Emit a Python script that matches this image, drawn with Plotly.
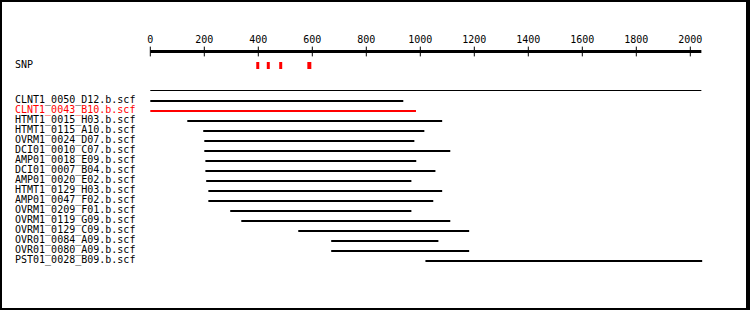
import plotly.graph_objects as go

# ---- data ----
read_names = [
    "CLNT1_0050_D12.b.scf", "CLNT1_0043_B10.b.scf", "HTMT1_0015_H03.b.scf",
    "HTMT1_0115_A10.b.scf", "OVRM1_0024_D07.b.scf", "DCI01_0010_C07.b.scf",
    "AMP01_0018_E09.b.scf", "DCI01_0007_B04.b.scf", "AMP01_0020_E02.b.scf",
    "HTMT1_0129_H03.b.scf", "AMP01_0047_F02.b.scf", "OVRM1_0209_F01.b.scf",
    "OVRM1_0119_G09.b.scf", "OVRM1_0129_C09.b.scf", "OVR01_0084_A09.b.scf",
    "OVR01_0080_A09.b.scf", "PST01_0028_B09.b.scf",
]
read_start = [0, 0, 137, 196, 200, 200, 204, 204, 207, 215, 215, 296, 337, 548, 670, 670, 1019]
read_end = [937, 984, 1081, 1015, 978, 1111, 985, 1056, 967, 1081, 1048, 967, 1111, 1181, 1067, 1181, 2044]
highlight = "CLNT1_0043_B10.b.scf"
snp_pos = [398, 437, 483, 589]
snp_width_px = [3, 3, 3, 4]
consensus = [0, 2041]
tick_vals = [0, 200, 400, 600, 800, 1000, 1200, 1400, 1600, 1800, 2000]
tick_labels = [str(v) for v in tick_vals]

# ---- layout constants (row units: pixel = 101 + 10*row) ----
W, H = 750, 310
PX0, PXS = 150.3, 0.27          # pixel of 0, pixels per unit
ROW0, ROWH = 101.0, 10.0
def prow(p):
    return (p - ROW0) / ROWH
def xval(px):
    return (px - PX0) / PXS
AXIS_Y = prow(51.5)
TICKLAB_Y = prow(40)
SNP_Y = prow(65.5)
CONS_Y = prow(90.5)
LABEL_X = xval(15)
FONT = dict(family="DejaVu Sans Mono", size=10, color="black")

fig = go.Figure()

# ruler line
fig.add_trace(go.Scatter(x=[0, consensus[1]], y=[AXIS_Y, AXIS_Y], mode="lines",
                         line=dict(color="black", width=3), hoverinfo="skip"))
# tick marks
fig.add_trace(go.Scatter(x=tick_vals, y=[AXIS_Y] * len(tick_vals), mode="markers",
                         marker=dict(symbol="line-ns", size=7, line=dict(color="black", width=1)),
                         hoverinfo="skip"))
# tick labels
fig.add_trace(go.Scatter(x=tick_vals, y=[TICKLAB_Y] * len(tick_vals), mode="text",
                         text=tick_labels, textposition="middle center",
                         textfont=FONT, hoverinfo="skip"))
# SNPs
for s, wpx in zip(snp_pos, snp_width_px):
    fig.add_shape(type="rect", xref="x", yref="y",
                  x0=s - wpx / 2 / PXS, x1=s + wpx / 2 / PXS,
                  y0=SNP_Y - 0.35, y1=SNP_Y + 0.35,
                  fillcolor="red", line=dict(width=0))
# consensus line
fig.add_trace(go.Scatter(x=consensus, y=[CONS_Y, CONS_Y], mode="lines",
                         line=dict(color="black", width=1), hoverinfo="skip"))
# reads
colors = ["red" if n == highlight else "black" for n in read_names]
for i, (s, e, col) in enumerate(zip(read_start, read_end, colors)):
    fig.add_trace(go.Scatter(x=[s, e], y=[i, i], mode="lines",
                             line=dict(color=col, width=2), hoverinfo="skip"))
# labels
fig.add_trace(go.Scatter(x=[LABEL_X] * (len(read_names) + 1),
                         y=[SNP_Y] + [i - 0.1 for i in range(len(read_names))],
                         mode="text", text=["SNP"] + read_names,
                         textposition="middle right",
                         textfont=dict(family=FONT["family"], size=10,
                                       color=["black"] + colors),
                         hoverinfo="skip", cliponaxis=False))

# frame
for x0, x1, y0, y1 in [(0, 2, 0, H), (746, W, 0, H), (0, W, 0, 2), (0, W, 308, H)]:
    fig.add_shape(type="rect", xref="paper", yref="paper",
                  x0=x0 / W, x1=x1 / W, y0=1 - y1 / H, y1=1 - y0 / H,
                  fillcolor="black", line=dict(width=0), layer="above")

fig.update_layout(
    width=W, height=H, margin=dict(l=0, r=0, t=0, b=0),
    paper_bgcolor="white", plot_bgcolor="white", showlegend=False,
    xaxis=dict(range=[xval(0), xval(W)], visible=False, fixedrange=True),
    yaxis=dict(range=[prow(H), prow(0)], visible=False, fixedrange=True),
)
fig.write_html("out.html")
